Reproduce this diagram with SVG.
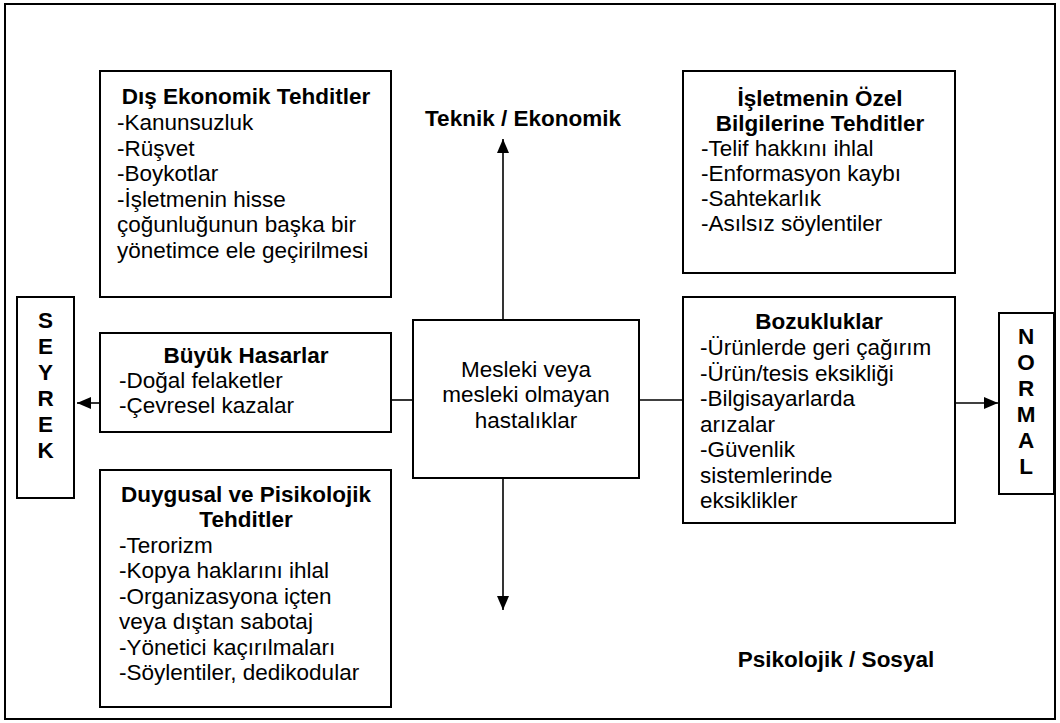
<svg xmlns="http://www.w3.org/2000/svg" width="1060" height="723" viewBox="0 0 1060 723">
<defs>
<style>
.box{fill:#fff;stroke:#000;stroke-width:2}
.ln{fill:none;stroke:#000;stroke-width:1.6}
text{font-family:"Liberation Sans",Arial,sans-serif;font-size:22.5px;fill:#000}
.b{font-weight:bold}
.c{text-anchor:middle}
</style>
<marker id="ah" markerUnits="userSpaceOnUse" markerWidth="16" markerHeight="14" refX="14" refY="6" orient="auto">
<path d="M0,0 L14,6 L0,12 Z" fill="#000"/>
</marker>
</defs>
<rect x="0" y="0" width="1060" height="723" fill="#fff"/>
<rect id="frame" x="5" y="4" width="1050" height="715" fill="none" stroke="#000" stroke-width="2"/>

<g id="connectors">
<line class="ln" x1="503" y1="320" x2="503" y2="139" marker-end="url(#ah)"/>
<line class="ln" x1="503" y1="478" x2="503" y2="610" marker-end="url(#ah)"/>
<line class="ln" x1="391" y1="400" x2="413" y2="400"/>
<line class="ln" x1="639" y1="400" x2="683" y2="400"/>
<line class="ln" x1="100" y1="403" x2="77" y2="403" marker-end="url(#ah)"/>
<line class="ln" x1="955" y1="403" x2="998" y2="403" marker-end="url(#ah)"/>
</g>

<g id="dis-ekonomik">
<rect class="box" x="100" y="71" width="291" height="226"/>
<text class="b c" x="246" y="104">Dış Ekonomik Tehditler</text>
<text x="117" y="130">-Kanunsuzluk</text>
<text x="117" y="155.5">-Rüşvet</text>
<text x="117" y="181">-Boykotlar</text>
<text x="117" y="206.5">-İşletmenin hisse</text>
<text x="117" y="232">çoğunluğunun başka bir</text>
<text x="117" y="257.5">yönetimce ele geçirilmesi</text>
</g>

<g id="isletme-ozel">
<rect class="box" x="683" y="71" width="272" height="202"/>
<text class="b c" x="820" y="106">İşletmenin Özel</text>
<text class="b c" x="820" y="131">Bilgilerine Tehditler</text>
<text x="701" y="156">-Telif hakkını ihlal</text>
<text x="701" y="181">-Enformasyon kaybı</text>
<text x="701" y="206">-Sahtekarlık</text>
<text x="701" y="231">-Asılsız söylentiler</text>
</g>

<g id="seyrek">
<rect class="box" x="17" y="297" width="57" height="201"/>
<text class="b c" x="45.5" y="328">S</text>
<text class="b c" x="45.5" y="354">E</text>
<text class="b c" x="45.5" y="380">Y</text>
<text class="b c" x="45.5" y="406">R</text>
<text class="b c" x="45.5" y="432">E</text>
<text class="b c" x="45.5" y="458">K</text>
</g>

<g id="buyuk-hasarlar">
<rect class="box" x="100" y="333" width="291" height="99"/>
<text class="b c" x="246" y="363">Büyük Hasarlar</text>
<text x="119" y="388">-Doğal felaketler</text>
<text x="119" y="413">-Çevresel kazalar</text>
</g>

<g id="merkez">
<rect class="box" x="413" y="320" width="226" height="158"/>
<text class="c" x="526" y="377">Mesleki veya</text>
<text class="c" x="526" y="402">mesleki olmayan</text>
<text class="c" x="526" y="427.5">hastalıklar</text>
</g>

<g id="bozukluklar">
<rect class="box" x="683" y="297" width="272" height="226"/>
<text class="b c" x="819" y="329">Bozukluklar</text>
<text x="700" y="355">-Ürünlerde geri çağırım</text>
<text x="700" y="380.5">-Ürün/tesis eksikliği</text>
<text x="700" y="406">-Bilgisayarlarda</text>
<text x="700" y="431.5">arızalar</text>
<text x="700" y="457">-Güvenlik</text>
<text x="700" y="482.5">sistemlerinde</text>
<text x="700" y="508">eksiklikler</text>
</g>

<g id="normal">
<rect class="box" x="999" y="313" width="55" height="181"/>
<text class="b c" x="1026" y="344">N</text>
<text class="b c" x="1026" y="370">O</text>
<text class="b c" x="1026" y="396">R</text>
<text class="b c" x="1026" y="422">M</text>
<text class="b c" x="1026" y="448">A</text>
<text class="b c" x="1026" y="474">L</text>
</g>

<g id="duygusal">
<rect class="box" x="100" y="470" width="291" height="237"/>
<text class="b c" x="246" y="502">Duygusal ve Pisikolojik</text>
<text class="b c" x="246" y="527">Tehditler</text>
<text x="119" y="553">-Terorizm</text>
<text x="119" y="578">-Kopya haklarını ihlal</text>
<text x="119" y="604">-Organizasyona içten</text>
<text x="119" y="629">veya dıştan sabotaj</text>
<text x="119" y="655">-Yönetici kaçırılmaları</text>
<text x="119" y="680">-Söylentiler, dedikodular</text>
</g>

<g id="axis-labels">
<text class="b c" x="523" y="126">Teknik / Ekonomik</text>
<text class="b c" x="836" y="667">Psikolojik / Sosyal</text>
</g>
</svg>
